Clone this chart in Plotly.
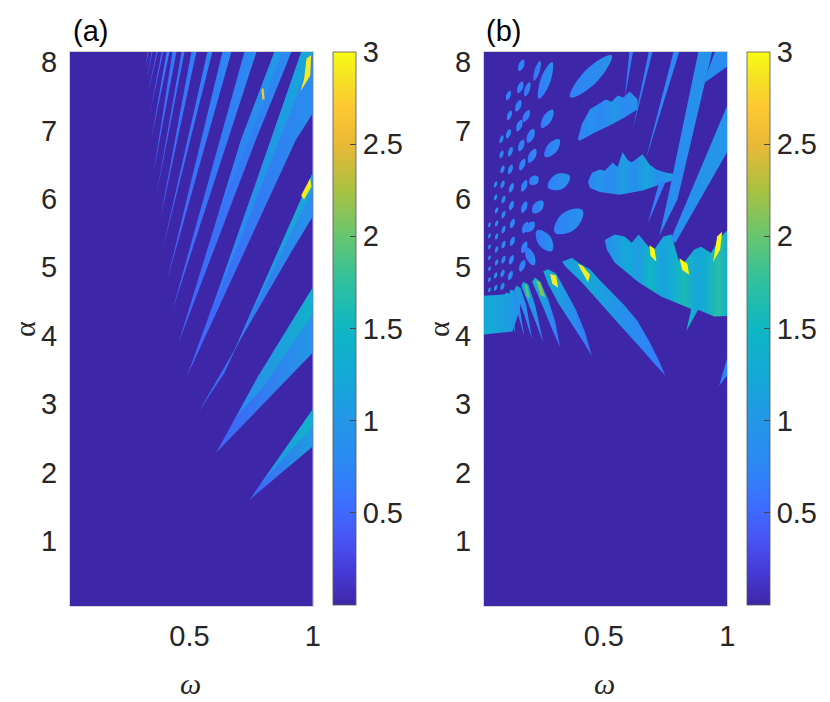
import plotly.graph_objects as go
from plotly.colors import sample_colorscale

# parula-like colour map for the value range 0..3
PARULA = [
    [0.00, "rgb(62,38,168)"],
    [0.06, "rgb(70,58,215)"],
    [0.12, "rgb(72,85,245)"],
    [0.18, "rgb(60,110,253)"],
    [0.25, "rgb(45,135,245)"],
    [0.33, "rgb(36,150,232)"],
    [0.41, "rgb(20,168,215)"],
    [0.50, "rgb(15,182,195)"],
    [0.58, "rgb(45,192,160)"],
    [0.67, "rgb(105,198,110)"],
    [0.75, "rgb(170,193,65)"],
    [0.83, "rgb(232,185,55)"],
    [0.90, "rgb(252,200,50)"],
    [0.96, "rgb(245,230,35)"],
    [1.00, "rgb(249,251,21)"],
]
ZMAX = 3.0
CB_TICKS = [0.5, 1, 1.5, 2, 2.5, 3]

# ---------------- panel (a): tongues, outlines in (omega, alpha) ----------------
A_TONGUE_W = [
    [0.743, 1.0, 1.0],
    [0.608, 0.776, 1.0, 1.0],
    [0.534, 0.642, 1.0, 1.0, 0.919],
    [0.489, 0.642, 0.831, 0.954, 1.02, 1.02, 0.933],
    [0.455, 0.710, 0.845, 0.914, 0.770],
    [0.430, 0.723, 0.772],
    [0.410, 0.634, 0.670],
    [0.391, 0.573, 0.593],
    [0.381, 0.508, 0.528],
    [0.365, 0.468, 0.480],
    [0.354, 0.431, 0.447],
    [0.345, 0.407, 0.419],
    [0.338, 0.387, 0.394],
    [0.330, 0.366, 0.371],
    [0.326, 0.346, 0.350],
    [0.322, 0.330, 0.334],
]
A_TONGUE_AL = [
    [1.60, 2.92, 2.38],
    [2.29, 3.39, 4.70, 3.75],
    [2.87, 3.46, 6.38, 5.74, 5.26],
    [3.40, 4.92, 6.87, 8.15, 8.15, 7.36, 6.87],
    [3.89, 6.87, 8.15, 8.15, 6.87],
    [4.36, 8.15, 8.15],
    [4.82, 8.15, 8.15],
    [5.26, 8.15, 8.15],
    [5.70, 8.15, 8.15],
    [6.04, 8.15, 8.15],
    [6.38, 8.15, 8.15],
    [6.87, 8.15, 8.15],
    [7.23, 8.15, 8.15],
    [7.52, 8.15, 8.15],
    [7.74, 8.15, 8.15],
    [7.92, 8.15, 8.15],
]
A_TONGUE_LO = [0.45, 0.45, 0.45, 0.45, 0.45, 0.45, 0.45, 0.45, 0.45, 0.45,
               0.45, 0.45, 0.4, 0.4, 0.4, 0.4]
A_TONGUE_HI = [1.1, 1.0, 0.95, 0.9, 0.85, 0.85, 0.8, 0.75, 0.7, 0.65,
               0.65, 0.65, 0.5, 0.5, 0.5, 0.5]

# lighter strips along the upper-left edge of the wide tongues
A_EDGE_W = [
    [0.79, 1.0, 1.0],
    [0.69, 0.776, 1.0, 1.0, 0.80],
    [0.642, 1.0, 1.0, 0.75],
    [0.60, 0.642, 0.831, 0.954, 1.0, 0.88, 0.70],
    [0.62, 0.710, 0.845, 0.875, 0.74],
]
A_EDGE_AL = [
    [1.84, 2.92, 2.68],
    [2.82, 3.39, 4.70, 4.32, 3.25],
    [3.46, 6.38, 6.15, 4.30],
    [4.45, 4.92, 6.87, 8.15, 8.15, 7.00, 5.35],
    [5.80, 6.87, 8.15, 8.15, 6.85],
]
A_EDGE_Z = [[0.9, 1.45], [0.8, 1.4], [0.75, 1.3], [0.7, 1.25], [0.65, 1.05]]

A_SPOT_W = [[0.975, 0.994, 0.990, 0.950, 0.965],
            [0.990, 0.995, 0.965, 0.953],
            [0.792, 0.800, 0.805, 0.796]]
A_SPOT_AL = [[8.05, 8.10, 7.80, 7.57, 7.75],
             [6.30, 6.18, 5.99, 6.05],
             [7.60, 7.62, 7.45, 7.45]]
A_SPOT_Z = [2.9, 2.9, 2.7]

# ---------------- panel (b) ----------------
# larger islands: centre, half major axis, half minor axis, value
B_ELL_W = [0.448, 0.264, 0.271, 0.291, 0.318, 0.358, 0.260, 0.202,
           0.230, 0.190, 0.186, 0.204, 0.210, 0.217, 0.233, 0.202]
B_ELL_AL = [7.79, 7.73, 7.17, 6.74, 6.25, 5.67, 5.39, 5.16,
            7.87, 7.60, 7.21, 6.92, 6.63, 6.27, 5.88, 5.59]
B_ELL_UW = [0.084, 0.027, 0.023, 0.029, 0.044, 0.056, 0.030, 0.016,
            0.013, 0.010, 0.012, 0.012, 0.014, 0.016, 0.020, 0.016]
B_ELL_UA = [0.307, 0.268, 0.132, 0.127, 0.085, 0.164, -0.151, -0.132,
            0.146, 0.102, 0.088, 0.102, 0.102, 0.058, 0.088, 0.073]
B_ELL_VW = [0.023, 0.019, 0.015, 0.017, 0.015, 0.025, 0.023, 0.016,
            0.010, 0.010, 0.011, 0.013, 0.013, 0.013, 0.015, 0.012]
B_ELL_VA = [-0.083, -0.025, -0.035, -0.051, -0.103, -0.114, 0.060, 0.027,
            -0.012, -0.012, -0.019, -0.020, -0.023, -0.047, -0.047, -0.037]
B_ELL_Z = [0.85, 0.8, 0.8, 0.8, 0.85, 0.85, 0.8, 0.75,
           0.7, 0.7, 0.7, 0.75, 0.75, 0.75, 0.75, 0.75]

# small islands in columns near the left edge
DOT_COL_W = [
    [0.166, 0.162, 0.154, 0.158, 0.166, 0.170, 0.178, 0.178, 0.182, 0.178, 0.170],
    [0.114, 0.118, 0.114, 0.122, 0.122, 0.126, 0.126, 0.130, 0.130, 0.126, 0.122],
    [0.086, 0.086, 0.090, 0.090, 0.094, 0.094, 0.094, 0.094, 0.094, 0.090, 0.090],
    [0.062, 0.062, 0.066, 0.066, 0.066, 0.066, 0.066, 0.062, 0.062],
    [0.037, 0.037, 0.037, 0.037, 0.037, 0.037, 0.037],
]
DOT_COL_AL = [
    [7.95, 7.63, 7.36, 7.07, 6.78, 6.50, 6.19, 5.88, 5.58, 5.29, 5.02],
    [7.51, 7.22, 6.95, 6.69, 6.43, 6.16, 5.90, 5.64, 5.38, 5.11, 4.88],
    [6.87, 6.65, 6.43, 6.21, 5.99, 5.77, 5.55, 5.33, 5.11, 4.91, 4.72],
    [6.21, 6.02, 5.83, 5.64, 5.45, 5.26, 5.07, 4.88, 4.70],
    [5.62, 5.46, 5.30, 5.14, 4.98, 4.82, 4.67],
]
DOT_COL_SIZE = [
    (0.0090, 0.085, 0.0105, -0.014),
    (0.0067, 0.070, 0.0084, -0.010),
    (0.0056, 0.057, 0.0070, -0.008),
    (0.0045, 0.045, 0.0056, -0.006),
    (0.0034, 0.036, 0.0045, -0.006),
]
DOT_COL_Z = [0.72, 0.75, 0.8, 0.95, 1.1]

# jagged regions, narrow tongues and leaves
B_SHAPE_W = [
    [0.395, 0.411, 0.444, 0.484, 0.508, 0.532, 0.556, 0.580, 0.605, 0.621, 0.637,
     0.637, 0.584, 0.524, 0.464, 0.403],
    [0.436, 0.452, 0.484, 0.504, 0.536, 0.556, 0.576, 0.596, 0.613, 0.637, 0.657,
     0.685, 0.713, 0.753, 0.814, 0.814, 0.753, 0.657, 0.564, 0.484, 0.444],
    [0.725, 0.750, 0.678],
    [0.504, 0.544, 0.584, 0.613, 0.641, 0.681, 0.705, 0.741, 0.774, 0.802, 0.826,
     0.866, 0.894, 0.934, 0.975, 1.01, 1.01, 0.947, 0.882, 0.834, 0.854, 0.734,
     0.641, 0.544, 0.512],
    [0.605, 0.621, 0.584],
    [0.685, 0.701, 0.617],
    [0.786, 0.810, 0.669],
    [0.886, 0.942, 0.798, 0.725, 0.758],
    [0.955, 1.01, 1.01, 0.902],
    [1.01, 1.01, 0.790, 0.770],
    [0.967, 1.01, 1.01],
    [0.0, 0.082, 0.158, 0.162, 0.130, 0.0],
    [0.331, 0.371, 0.403, 0.444, 0.484, 0.532, 0.584, 0.637, 0.685, 0.725, 0.749,
     0.705, 0.645, 0.564, 0.484, 0.411, 0.347],
    [0.275, 0.307, 0.343, 0.387, 0.424, 0.452, 0.424, 0.371, 0.315, 0.275, 0.255],
    [0.222, 0.243, 0.275, 0.303, 0.323, 0.291, 0.259, 0.226, 0.210],
    [0.174, 0.194, 0.222, 0.255, 0.218, 0.186, 0.166],
    [0.146, 0.162, 0.186, 0.210, 0.178, 0.150, 0.138],
    [0.122, 0.138, 0.158, 0.178, 0.150, 0.126, 0.118],
    [0.102, 0.114, 0.130, 0.142, 0.118, 0.102],
    [0.082, 0.094, 0.106, 0.118, 0.094, 0.082],
]
B_SHAPE_AL = [
    [6.87, 7.09, 7.31, 7.40, 7.45, 7.42, 7.51, 7.48, 7.57, 7.51, 7.45,
     7.31, 7.19, 7.07, 6.97, 6.85],
    [6.25, 6.38, 6.43, 6.41, 6.53, 6.46, 6.68, 6.57, 6.53, 6.60, 6.65,
     6.50, 6.43, 6.38, 6.35, 6.31, 6.24, 6.12, 6.06, 6.10, 6.16],
    [6.25, 6.25, 5.64],
    [5.40, 5.48, 5.45, 5.36, 5.48, 5.30, 5.26, 5.45, 5.48, 5.11, 5.07,
     5.26, 5.30, 5.21, 5.45, 5.58, 4.29, 4.28, 4.38, 4.07, 4.39, 4.57,
     4.78, 5.07, 5.26],
    [8.2, 8.2, 7.45],
    [8.2, 8.2, 7.01],
    [8.2, 8.2, 6.56],
    [8.2, 8.2, 5.99, 5.46, 5.99],
    [8.2, 8.2, 7.96, 7.68],
    [7.45, 6.75, 5.36, 5.40],
    [3.27, 3.80, 3.47],
    [4.58, 4.60, 4.63, 4.40, 4.06, 4.01],
    [5.08, 5.14, 5.05, 4.97, 4.81, 4.63, 4.44, 4.21, 3.91, 3.62, 3.42,
     3.59, 3.84, 4.16, 4.48, 4.78, 5.00],
    [4.97, 4.91, 4.67, 4.38, 4.05, 3.70, 3.87, 4.16, 4.48, 4.75, 4.94],
    [4.85, 4.79, 4.53, 4.21, 3.83, 4.09, 4.38, 4.64, 4.79],
    [4.79, 4.75, 4.45, 3.90, 4.26, 4.55, 4.73],
    [4.73, 4.70, 4.45, 3.94, 4.31, 4.55, 4.67],
    [4.67, 4.66, 4.45, 3.99, 4.35, 4.55, 4.63],
    [4.63, 4.62, 4.43, 4.02, 4.35, 4.53],
    [4.60, 4.59, 4.41, 4.05, 4.38, 4.53],
]
B_SHAPE_Z = [
    [0.7, 0.9, 0.75, 1.0, 0.8, 0.95],
    [0.75, 0.95, 0.8, 1.1, 0.85, 1.2, 0.9, 1.05, 0.8],
    [0.7],
    [0.85, 1.05, 1.25, 1.05, 1.5, 1.15, 1.3, 1.6, 1.2, 1.35, 1.7, 1.25],
    [0.65],
    [0.7],
    [0.75],
    [0.8, 0.95],
    [0.85],
    [0.85, 1.0],
    [0.7, 0.9],
    [1.35, 1.2, 1.1, 0.95],
    [1.0, 1.25, 1.1, 0.9, 0.75, 0.6],
    [1.3, 1.1, 0.8, 0.6],
    [1.5, 1.15, 0.8, 0.6],
    [1.3, 1.0, 0.7],
    [1.2, 0.9, 0.7],
    [1.2, 0.9, 0.7],
    [1.2, 0.9],
    [1.2, 0.9],
]

B_SPOT_W = [[0.283, 0.307, 0.315, 0.291], [0.395, 0.415, 0.444, 0.436, 0.411],
            [0.685, 0.705, 0.713, 0.689], [0.806, 0.838, 0.846, 0.818],
            [0.959, 0.979, 0.971, 0.943], [0.226, 0.243, 0.263, 0.243],
            [0.178, 0.190, 0.200, 0.188]]
B_SPOT_AL = [[4.90, 4.88, 4.70, 4.76], [5.05, 5.02, 4.89, 4.78, 4.94],
             [5.32, 5.27, 5.08, 5.17], [5.13, 5.05, 4.89, 4.96],
             [5.45, 5.52, 5.26, 5.08], [4.81, 4.78, 4.56, 4.59],
             [4.76, 4.74, 4.55, 4.57]]
B_SPOT_Z = [2.9, 2.9, 3.0, 3.0, 3.0, 2.1, 1.9]

FONT = "Liberation Sans, Arial, sans-serif"
W, H = 830, 702
OFF = 8  # the page body adds an 8 px margin; place everything 8 px up/left


def px_x(p):
    return (p - OFF) / W


def px_y(p):
    return 1 - (p - OFF) / H


def shade(v):
    return sample_colorscale(PARULA, [min(max(v / ZMAX, 0.0), 1.0)])[0]


fig = go.Figure()


def add_patch(w, a, zs, xa, ya):
    tr = dict(x=list(w) + [w[0]], y=list(a) + [a[0]], mode="lines", fill="toself",
              line=dict(width=0), hoverinfo="skip", showlegend=False,
              xaxis=xa, yaxis=ya)
    if len(zs) == 1:
        tr["fillcolor"] = shade(zs[0])
    else:
        n = len(zs)
        tr["fillgradient"] = dict(type="horizontal",
                                  colorscale=[[i / (n - 1), shade(z)] for i, z in enumerate(zs)])
    fig.add_trace(go.Scatter(**tr))


def ellipse(cw, ca, uw, ua, vw, va):
    xs = [cw + uw, cw + vw, cw - uw, cw - vw, cw + uw]
    ys = [ca + ua, ca + va, ca - ua, ca - va, ca + ua]
    return xs, ys


# panel (a)
for w, a, lo, hi in zip(A_TONGUE_W, A_TONGUE_AL, A_TONGUE_LO, A_TONGUE_HI):
    add_patch(w, a, [lo, hi], "x", "y")
for w, a, zs in zip(A_EDGE_W, A_EDGE_AL, A_EDGE_Z):
    add_patch(w, a, zs, "x", "y")
for w, a, z in zip(A_SPOT_W, A_SPOT_AL, A_SPOT_Z):
    add_patch(w, a, [z], "x", "y")

# panel (b): small islands
for cws, cas, (uw, ua, vw, va), z in zip(DOT_COL_W, DOT_COL_AL, DOT_COL_SIZE, DOT_COL_Z):
    xs, ys = [], []
    for cw, ca in zip(cws, cas):
        ex, ey = ellipse(cw, ca, uw, ua, vw, va)
        xs += ex + [None]
        ys += ey + [None]
    fig.add_trace(go.Scatter(x=xs, y=ys, mode="lines", fill="toself", fillcolor=shade(z),
                             line=dict(width=0, shape="spline", smoothing=1.3),
                             hoverinfo="skip", showlegend=False, xaxis="x2", yaxis="y2"))

for i in range(len(B_ELL_W)):
    ex, ey = ellipse(B_ELL_W[i], B_ELL_AL[i], B_ELL_UW[i], B_ELL_UA[i], B_ELL_VW[i], B_ELL_VA[i])
    z = B_ELL_Z[i]
    fig.add_trace(go.Scatter(x=ex, y=ey, mode="lines", fill="toself",
                             fillgradient=dict(type="horizontal",
                                               colorscale=[[0, shade(z - 0.15)], [1, shade(z + 0.1)]]),
                             line=dict(width=0, shape="spline", smoothing=1.3),
                             hoverinfo="skip", showlegend=False, xaxis="x2", yaxis="y2"))

for w, a, zs in zip(B_SHAPE_W, B_SHAPE_AL, B_SHAPE_Z):
    add_patch(w, a, zs, "x2", "y2")
for w, a, z in zip(B_SPOT_W, B_SPOT_AL, B_SPOT_Z):
    add_patch(w, a, [z], "x2", "y2")

# invisible markers carrying the colour axes (for the colour bars)
fig.add_trace(go.Scatter(x=[w[0] for w in A_TONGUE_W], y=[a[0] for a in A_TONGUE_AL],
                         mode="markers", marker=dict(color=A_TONGUE_HI, coloraxis="coloraxis",
                                                     size=2, opacity=0),
                         hoverinfo="skip", showlegend=False, xaxis="x", yaxis="y"))
fig.add_trace(go.Scatter(x=B_ELL_W, y=B_ELL_AL, mode="markers",
                         marker=dict(color=B_ELL_Z, coloraxis="coloraxis2", size=2, opacity=0),
                         hoverinfo="skip", showlegend=False, xaxis="x2", yaxis="y2"))


def cbar(x_px):
    return dict(x=px_x(x_px), xanchor="left", xpad=0, y=px_y((52 + 605) / 2),
                yanchor="middle", ypad=0, len=553, lenmode="pixels",
                thickness=23, thicknessmode="pixels",
                tickvals=CB_TICKS, ticktext=["0.5", "1", "1.5", "2", "2.5", "3"],
                ticks="inside", ticklen=6, tickcolor="#444444",
                outlinewidth=0.8, outlinecolor="#555555",
                tickfont=dict(family=FONT, size=29, color="#262626"))


axis_common = dict(showgrid=False, zeroline=False, showline=True, mirror=True,
                   linecolor="#d4d4d4", linewidth=1, ticks="outside",
                   tickcolor="rgba(0,0,0,0)", automargin=False,
                   tickfont=dict(family=FONT, size=29, color="#262626"))
xdom_a = [px_x(70), px_x(312.7)]
xdom_b = [px_x(484), px_x(727.3)]
ydom = [px_y(606), px_y(51.7)]

fig.update_layout(
    width=W, height=H, margin=dict(l=0, r=0, t=0, b=0, autoexpand=False),
    paper_bgcolor="white", plot_bgcolor="rgb(62,38,168)", hovermode=False,
    xaxis=dict(domain=xdom_a, range=[0.015, 1.0], anchor="y", tickvals=[0.5, 1],
               ticktext=["0.5", "1"], ticklen=4, **axis_common),
    yaxis=dict(domain=ydom, range=[0.05, 8.15], anchor="x", tickvals=list(range(1, 9)),
               ticklen=6, **axis_common),
    xaxis2=dict(domain=xdom_b, range=[0.015, 1.0], anchor="y2", tickvals=[0.5, 1],
                ticktext=["0.5", "1"], ticklen=4, **axis_common),
    yaxis2=dict(domain=ydom, range=[0.05, 8.15], anchor="x2", tickvals=list(range(1, 9)),
                ticklen=6, **axis_common),
    coloraxis=dict(colorscale=PARULA, cmin=0, cmax=ZMAX, colorbar=cbar(333)),
    coloraxis2=dict(colorscale=PARULA, cmin=0, cmax=ZMAX, colorbar=cbar(747.3)),
)

serif = dict(family="Liberation Serif, serif", size=30, color="#262626")
labels = [
    dict(text="(a)", x=px_x(71), y=px_y(31), xanchor="left",
         font=dict(family=FONT, size=29, color="black")),
    dict(text="(b)", x=px_x(484), y=px_y(31), xanchor="left",
         font=dict(family=FONT, size=29, color="black")),
    dict(text="<i>ω</i>", x=px_x(190), y=px_y(683), xanchor="center", font=serif),
    dict(text="<i>ω</i>", x=px_x(604), y=px_y(683), xanchor="center", font=serif),
    dict(text="α", x=px_x(25), y=px_y(329), xanchor="center", textangle=-90, font=serif),
    dict(text="α", x=px_x(439), y=px_y(329), xanchor="center", textangle=-90, font=serif),
]
for lab in labels:
    lab.update(xref="paper", yref="paper", showarrow=False, yanchor="middle")
    fig.add_annotation(**lab)

fig.write_html("out.html")
